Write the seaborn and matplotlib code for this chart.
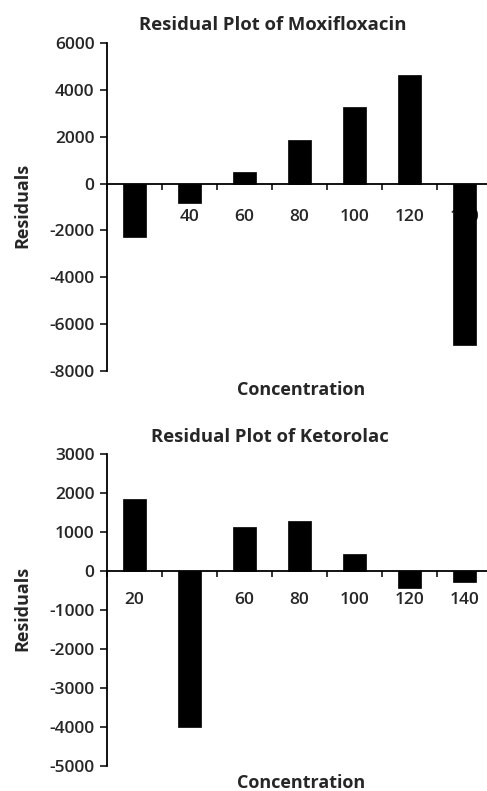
import matplotlib
matplotlib.use("Agg")
import matplotlib.pyplot as plt
import seaborn as sns
import pandas as pd
import numpy as np

concentrations = ["20", "40", "60", "80", "100", "120", "140"]
moxi_residuals = [-2270, -850, 500, 1860, 3280, 4650, -6900]
keto_residuals = [1850, -4000, 1140, 1290, 440, -430, -280]

moxi_yticks = [6000, 4000, 2000, 0, -2000, -4000, -6000, -8000]
keto_yticks = [3000, 2000, 1000, 0, -1000, -2000, -3000, -4000, -5000]

sns.set_theme(style="white")
plt.rcParams['font.family'] = ['Open Sans', 'DejaVu Sans']

fig = plt.figure(figsize=(4.87, 7.91), dpi=100)

W, H = 487, 791
def pos(l, r, t, b):
    return [l / W, 1 - b / H, (r - l) / W, (b - t) / H]

ax1 = fig.add_axes(pos(107, 492, 43, 371))
ax2 = fig.add_axes(pos(107, 492, 454.3, 765.7))

def draw(ax, vals, yticks, title, pad, tx):
    df = pd.DataFrame({"Concentration": concentrations, "Residuals": vals})
    sns.barplot(data=df, x="Concentration", y="Residuals", order=concentrations,
                color="black", width=0.42, ax=ax, edgecolor="black", linewidth=0.5,
                saturation=1)
    ax.set_axisbelow(True)
    ax.set_xlim(-0.5, len(concentrations) - 0.5)
    ax.set_ylim(min(yticks), max(yticks))
    ax.set_yticks(yticks)
    ax.set_yticklabels([str(v) for v in yticks], fontsize=12.5, fontweight="semibold")
    ax.spines["top"].set_visible(False)
    ax.spines["right"].set_visible(False)
    ax.spines["bottom"].set_position(("data", 0))
    for s in ("left", "bottom"):
        ax.spines[s].set_linewidth(1.3)
        ax.spines[s].set_color("black")
    ax.set_xticks(range(len(concentrations)))
    ax.set_xticklabels(concentrations, fontsize=12.5, fontweight="semibold")
    ax.set_xticks(np.arange(-0.5, len(concentrations), 1.0), minor=True)
    ax.tick_params(axis="x", which="major", length=0, pad=pad)
    ax.tick_params(axis="x", which="minor", length=4, width=1.1, color="black",
                   direction="out", bottom=True)
    ax.tick_params(axis="y", which="major", length=5, width=1.1, color="black",
                   direction="out", left=True, pad=4)
    ax.set_xlabel("")
    ax.set_ylabel("")
    ax.set_title(title, fontsize=13.3, fontweight="bold", pad=9, x=tx)

draw(ax1, moxi_residuals, moxi_yticks, "Residual Plot of Moxifloxacin", 18, 0.431)
draw(ax2, keto_residuals, keto_yticks, "Residual Plot of Ketorolac", 15, 0.423)

fig.text(301 / W, 1 - 390 / H, "Concentration", ha="center", va="center",
         fontsize=13, fontweight="bold")
fig.text(301 / W, 1 - 783 / H, "Concentration", ha="center", va="center",
         fontsize=13, fontweight="bold")
fig.text(22 / W, 1 - 205 / H, "Residuals", ha="center", va="center",
         rotation=90, fontsize=13, fontweight="bold")
fig.text(22 / W, 1 - 608 / H, "Residuals", ha="center", va="center",
         rotation=90, fontsize=13, fontweight="bold")

fig.savefig("out.png", dpi=100)
